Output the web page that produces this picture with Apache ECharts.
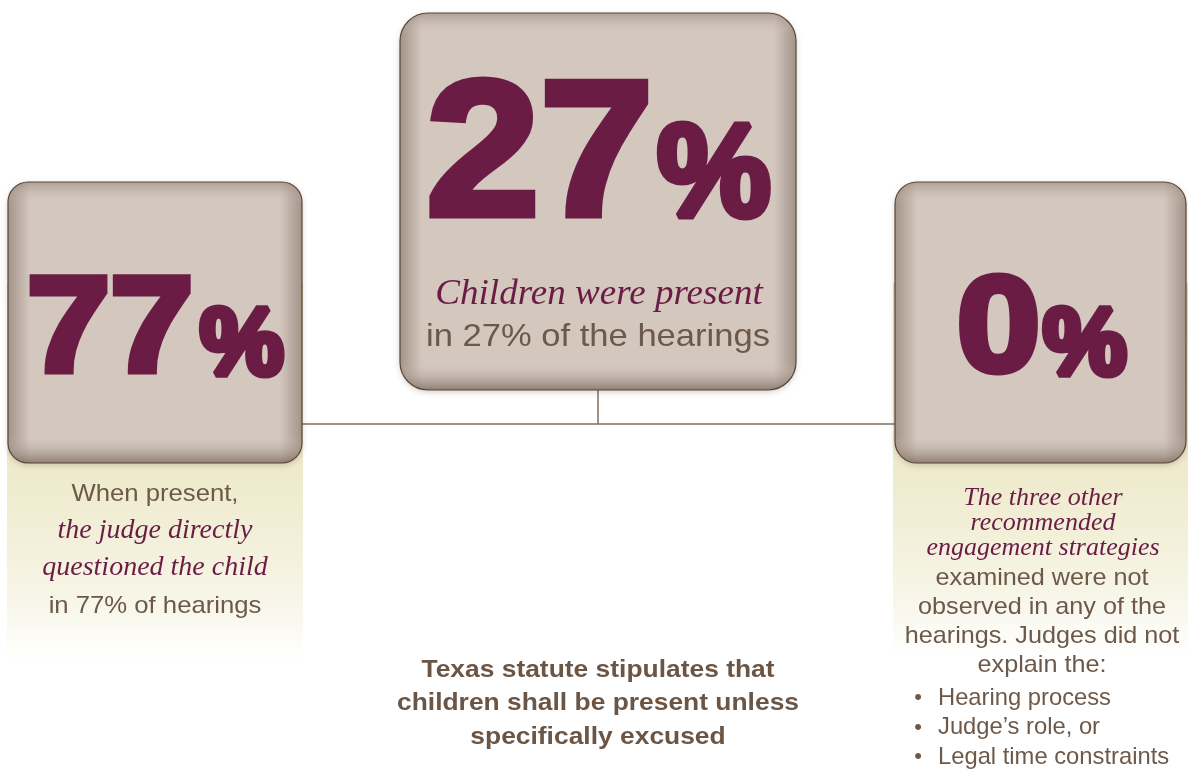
<!DOCTYPE html>
<html><head><meta charset="utf-8">
<script src="https://cdn.jsdelivr.net/npm/echarts@6/dist/echarts.min.js"></script>
<style>html,body{margin:0;padding:0;background:#fff}#c{width:1188px;height:769px}</style>
</head><body><div id="c"></div>
<script>
// ---- data ----
const statValues = [77, 27, 0];
const centerCaptionItalic = ['Children were present'];
const centerCaptionPlain = ['in 27% of the hearings'];
const leftCaptionPlainTop = ['When present,'];
const leftCaptionItalic = ['the judge directly', 'questioned the child'];
const leftCaptionPlainBottom = ['in 77% of hearings'];
const rightCaptionItalic = ['The three other', 'recommended', 'engagement strategies'];
const rightCaptionPlain = ['examined were not', 'observed in any of the', 'hearings. Judges did not', 'explain the:'];
const rightBullets = ['Hearing process', 'Judge\u2019s role, or', 'Legal time constraints'];
const footnoteLines = ['Texas statute stipulates that', 'children shall be present unless', 'specifically excused'];

// ---- styles ----
const MAROON = '#6a1c45';
const BROWN = '#6d5949';
const SANS = '"Liberation Sans", Arial, sans-serif';
const SERIF = '"Liberation Serif", "Times New Roman", serif';
const LG = echarts.graphic.LinearGradient;

function txt(s, x, y, font, fill, align, sx, extra) {
  const st = Object.assign({text: s, x: 0, y: 0, font: font, fill: fill,
    align: align, textAlign: align, verticalAlign: 'middle', textVerticalAlign: 'middle'}, extra || {});
  return {type: 'text', x: x, y: y, scaleX: sx || 1, z: 20, silent: true, style: st};
}
function box(x, y, w, h, r) {
  const e = Math.min(0.08, 22 / w);
  return [
    {type: 'rect', z: 5, silent: true, shape: {x: x, y: y, width: w, height: h, r: r},
     style: {fill: new LG(0, 0, 1, 0, [
       {offset: 0, color: '#a39389'}, {offset: e, color: '#d3c7be'},
       {offset: 1 - e, color: '#d3c7be'}, {offset: 1, color: '#a39389'}]),
       shadowBlur: 6, shadowColor: 'rgba(80,60,40,0.25)', shadowOffsetY: 2}},
    {type: 'rect', z: 6, silent: true, shape: {x: x, y: y, width: w, height: h, r: r},
     style: {fill: new LG(0, 0, 0, 1, [
       {offset: 0, color: 'rgba(140,122,110,0.55)'}, {offset: 22 / h, color: 'rgba(211,199,190,0)'},
       {offset: 1 - 28 / h, color: 'rgba(211,199,190,0)'}, {offset: 1, color: 'rgba(115,96,84,0.75)'}]),
       stroke: '#5a4636', lineWidth: 1.2}}
  ];
}
function panel(x, y, w, h) {
  return {type: 'rect', z: 1, silent: true, shape: {x: x, y: y, width: w, height: h},
    style: {fill: new LG(0, 0, 0, 1, [
      {offset: 0, color: '#e8e2bd'}, {offset: 0.5, color: '#eeeacc'},
      {offset: 0.8, color: '#f6f4e4'}, {offset: 1, color: '#ffffff'}])}};
}
function bigNumber(v, x, y, fs, pctX, pctY, pfs, sx, psx) {
  const common = {stroke: MAROON, lineWidth: 7, lineJoin: 'round'};
  return [
    txt(String(v), x, y, 'bold ' + fs + 'px ' + SANS, MAROON, 'left', sx, common),
    txt('%', pctX, pctY, 'bold ' + pfs + 'px ' + SANS, MAROON, 'left', psx, common)
  ];
}

const g = [];
g.push(panel(7, 283, 296, 380));
g.push(panel(893, 283, 295, 375));
g.push({type: 'line', z: 2, silent: true, shape: {x1: 302, y1: 424, x2: 896, y2: 424}, style: {stroke: '#7d6d60', lineWidth: 1.5}});
g.push({type: 'line', z: 2, silent: true, shape: {x1: 598, y1: 390, x2: 598, y2: 424}, style: {stroke: '#7d6d60', lineWidth: 1.5}});
g.push(...box(8, 182, 294, 281, 20));
g.push(...box(400, 13, 396, 377, 28));
g.push(...box(895, 182, 291, 281, 22));
g.push(...bigNumber(statValues[0], 27, 333, 136, 200, 348, 94, 1.1, 1.0));
g.push(...bigNumber(statValues[1], 426, 162, 193, 657, 180, 132, 1.06, 0.97));
g.push(...bigNumber(statValues[2], 957, 333, 136, 1043, 348, 94, 1.1, 1.0));

centerCaptionItalic.forEach((s, i) => g.push(txt(s, 599, 295 + i * 40, 'italic 36px ' + SERIF, MAROON, 'center', 1.03)));
centerCaptionPlain.forEach((s, i) => g.push(txt(s, 598, 337 + i * 40, '32px ' + SANS, BROWN, 'center', 1.08)));
leftCaptionPlainTop.forEach((s, i) => g.push(txt(s, 155, 494 + i * 37, '24px ' + SANS, BROWN, 'center', 1.07)));
leftCaptionItalic.forEach((s, i) => g.push(txt(s, 155, 531 + i * 37, 'italic 28px ' + SERIF, MAROON, 'center', 1)));
leftCaptionPlainBottom.forEach((s, i) => g.push(txt(s, 155, 606 + i * 37, '24px ' + SANS, BROWN, 'center', 1.07)));
rightCaptionItalic.forEach((s, i) => g.push(txt(s, 1043, 498 + i * 25, 'italic 26px ' + SERIF, MAROON, 'center', 1)));
rightCaptionPlain.forEach((s, i) => g.push(txt(s, 1042, 578 + i * 29, '24px ' + SANS, BROWN, 'center', 1.05)));
rightBullets.forEach((s, i) => {
  g.push(txt('\u2022', 918, 698 + i * 29.5, '22px ' + SANS, BROWN, 'center', 1));
  g.push(txt(s, 938, 698 + i * 29.5, '24px ' + SANS, BROWN, 'left', 0.99));
});
footnoteLines.forEach((s, i) => g.push(txt(s, 598, 670 + i * 33.5, 'bold 24px ' + SANS, '#6b5545', 'center', 1.1)));

const chart = echarts.init(document.getElementById('c'), null, {renderer: 'canvas'});
chart.setOption({backgroundColor: '#ffffff', animation: false, graphic: {elements: g}});
</script>
</body></html>
